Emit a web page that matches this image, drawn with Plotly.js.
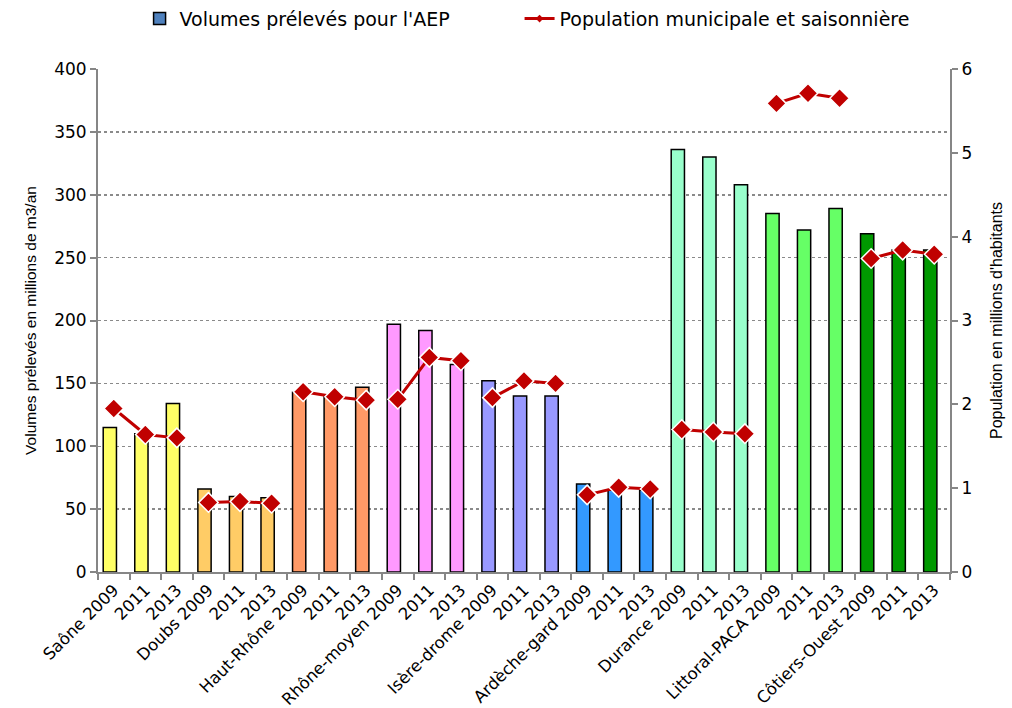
<!DOCTYPE html>
<html>
<head>
<meta charset="utf-8">
<script src="https://cdn.plot.ly/plotly-3.0.1.min.js"></script>
<style>html,body{margin:0;padding:0;background:#fff;}#chart{width:1012px;height:708px;}</style>
</head>
<body>
<div id="chart"></div>
<script>
// Data
const groups = ["Saône", "Doubs", "Haut-Rhône", "Rhône-moyen", "Isère-drome", "Ardèche-gard", "Durance", "Littoral-PACA", "Côtiers-Ouest"];
const years = ["2009", "2011", "2013"];
const groupColors = ["#FFFF66", "#FFCC66", "#FF9966", "#FF99FF", "#9999FF", "#3399FF", "#99FFCC", "#66FF66", "#009900"];
const volumes = [
  115, 110, 134,
  66, 60, 59,
  143, 140, 147,
  197, 192, 165,
  152, 140, 140,
  70, 65, 65,
  336, 330, 308,
  285, 272, 289,
  269, 256, 256
];
const population = [
  1.95, 1.64, 1.60,
  0.83, 0.84, 0.82,
  2.15, 2.09, 2.05,
  2.06, 2.56, 2.52,
  2.08, 2.28, 2.25,
  0.92, 1.01, 0.99,
  1.70, 1.67, 1.65,
  5.59, 5.71, 5.65,
  3.74, 3.84, 3.79
];
const volName = "Volumes prélevés pour l'AEP";
const popName = "Population municipale et saisonnière";
const yTitle = "Volumes prélevés en millions de m3/an";
const y2Title = "Population en millions d'habitants";

// Build labels / positions
const labels = [], xs = [], colors = [];
groups.forEach((g, gi) => {
  years.forEach((yr, yi) => {
    labels.push(yi === 0 ? g + " " + yr : yr);
    xs.push(gi * years.length + yi);
    colors.push(groupColors[gi]);
  });
});

// Population line with breaks between groups
const lx = [], ly = [];
groups.forEach((g, gi) => {
  years.forEach((yr, yi) => {
    const i = gi * years.length + yi;
    lx.push(xs[i]); ly.push(population[i]);
  });
  lx.push(gi * years.length + years.length - 0.5); ly.push(null);
});

const traces = [
  {
    type: 'bar', x: xs, y: volumes, width: 0.42,
    marker: {color: colors, line: {color: '#000', width: 1.5}},
    showlegend: false, hoverinfo: 'x+y'
  },
  {
    type: 'bar', x: [0], y: [null], name: volName, legend: 'legend',
    marker: {color: '#4F81BD', line: {color: '#000', width: 1.5}},
    showlegend: true
  },
  {
    type: 'scatter', mode: 'lines+markers', x: lx, y: ly, yaxis: 'y2',
    connectgaps: false,
    line: {color: '#C00000', width: 3},
    marker: {symbol: 'diamond', size: 15, color: '#C00000', line: {color: '#fff', width: 1.5}},
    showlegend: false
  },
  {
    type: 'scatter', mode: 'lines+markers', x: [0], y: [null], yaxis: 'y2', name: popName, legend: 'legend2',
    line: {color: '#C00000', width: 3},
    marker: {symbol: 'diamond', size: 6, color: '#C00000'},
    showlegend: true
  }
];

const wide = '"DejaVu Sans", Verdana, sans-serif';
const narrow = '"Liberation Sans", Arial, sans-serif';
const legFont = {size: 19, family: wide, color: '#000'};
const layout = {
  width: 1012, height: 708,
  margin: {l: 98, r: 62, t: 69, b: 136, autoexpand: false},
  paper_bgcolor: '#fff', plot_bgcolor: '#fff',
  font: {family: wide, color: '#000', size: 16},
  bargap: 0.5,
  showlegend: true,
  legend: {orientation: 'h', x: 0.0488, xanchor: 'left', y: 1.1, yanchor: 'middle', font: legFont},
  legend2: {orientation: 'h', x: 0.4948, xanchor: 'left', y: 1.1, yanchor: 'middle', font: legFont},
  xaxis: {
    range: [-0.5, xs.length - 0.5],
    tickmode: 'array', tickvals: xs, ticktext: labels,
    tickangle: -45, ticks: '', ticklen: 0,
    tickfont: {size: 16.5, family: wide},
    showline: true, linecolor: '#868686', linewidth: 2,
    showgrid: false, zeroline: false,
    minor: {tick0: -0.5, dtick: 1, ticks: 'outside', ticklen: 6, tickcolor: '#868686', tickwidth: 2, showgrid: false}
  },
  yaxis: {
    range: [0, 400], dtick: 50, tick0: 0,
    ticks: 'outside', ticklen: 6, tickcolor: '#868686', tickwidth: 2,
    tickfont: {size: 17, family: wide},
    showline: true, linecolor: '#868686', linewidth: 2,
    showgrid: true, gridcolor: '#8a8a8a', gridwidth: 1.5, griddash: 'dot',
    zeroline: false,
    title: {text: yTitle, font: {size: 15.5, family: narrow}, standoff: 14}
  },
  yaxis2: {
    overlaying: 'y', side: 'right',
    range: [0, 6], dtick: 1, tick0: 0,
    ticks: 'outside', ticklen: 6, tickcolor: '#868686', tickwidth: 2,
    tickfont: {size: 17, family: wide},
    showline: true, linecolor: '#868686', linewidth: 2,
    showgrid: false, zeroline: false,
    title: {text: y2Title, font: {size: 16, family: narrow}, standoff: 20}
  }
};

Plotly.newPlot('chart', traces, layout, {displayModeBar: false, staticPlot: true});
</script>
</body>
</html>
